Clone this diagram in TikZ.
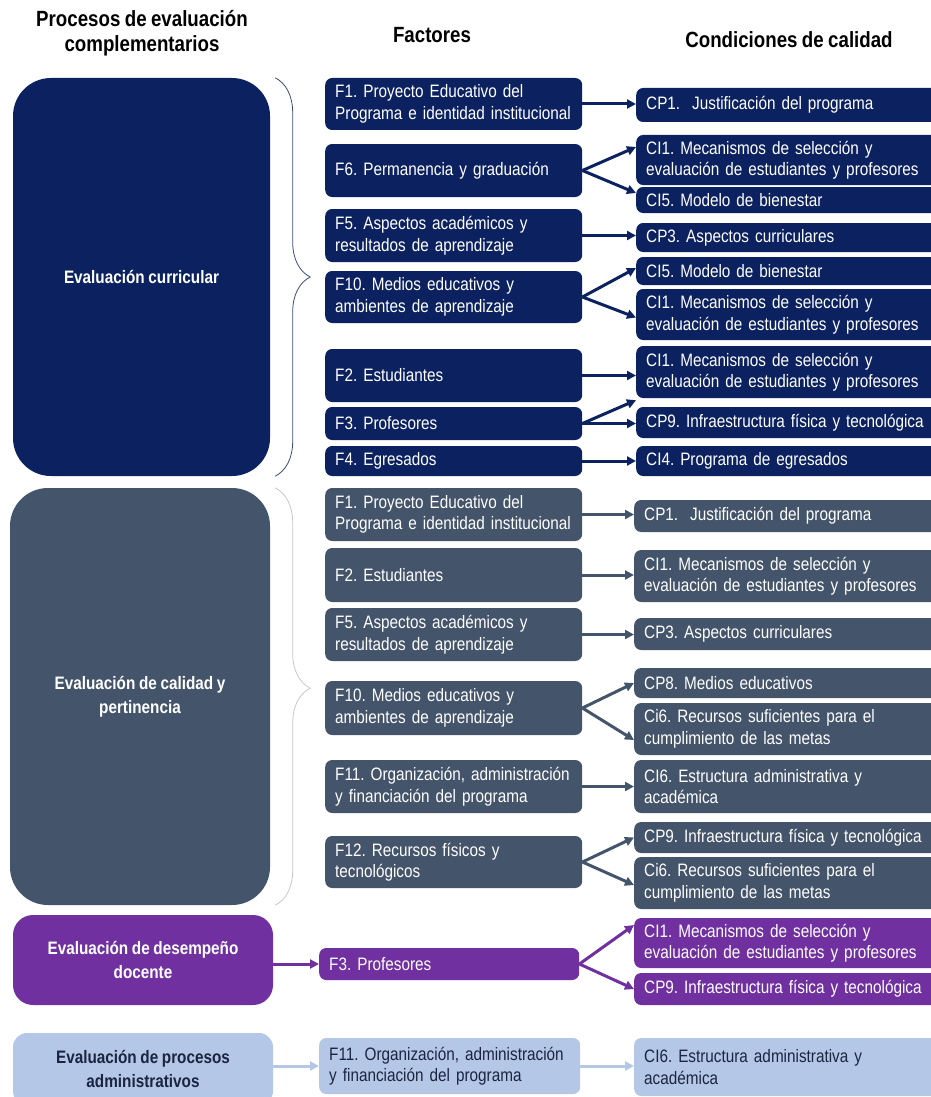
\documentclass[tikz,border=0pt]{standalone}
\usepackage{fontspec}
\setmainfont{Liberation Sans}[FakeStretch=0.85,WordSpace=0.85]
\frenchspacing
\usepackage{tikz}
\usetikzlibrary{positioning,arrows.meta,decorations.pathreplacing}
\definecolor{navy}{HTML}{0C2260}
\definecolor{slate}{HTML}{44546A}
\definecolor{violet2}{HTML}{7030A0}
\definecolor{pale}{HTML}{B4C7E7}
\definecolor{paletext}{HTML}{1B2540}
\definecolor{grey3}{HTML}{C8C8C8}
\definecolor{navy3}{HTML}{3B4B7B}
\tikzset{proc/.style={text=white,font=\fontsize{18}{24}\selectfont\bfseries,align=center,inner sep=0pt},
         fac/.style={anchor=west,rounded corners=7pt,text=white,font=\fontsize{18}{21.5}\selectfont,align=left,text width=237pt,inner xsep=10pt,inner ysep=0pt},
         cond/.style={anchor=west,rounded corners=7pt,text=white,font=\fontsize{18}{21.5}\selectfont,align=left,text width=300pt,inner xsep=10pt,inner ysep=0pt},
         link/.style={-{Triangle[length=9pt,width=9pt]},line width=3pt},
         head/.style={font=\fontsize{22}{25}\selectfont\bfseries,align=center}}

\begin{document}
\begin{tikzpicture}[x=1pt,y=-1pt]
        \clip (0,0) rectangle (931,1097);

        \node[head] (h_proc) at (142,33) {Procesos de evaluación\\complementarios};
        \node[head] (h_fac) at (432,35) {Factores};
        \node[head] (h_cond) at (789,40) {Condiciones de calidad};

        % evaluacion curricular
        \node[proc,fill=navy,rounded corners=38pt,minimum width=257pt,minimum height=398pt] (cur) at (141.5,277) {Evaluación curricular};
        \node[fac,fill=navy,minimum height=52pt] (f1_cur) at (325,104) {F1. Proyecto Educativo del\\Programa e identidad institucional};
        \node[fac,fill=navy,minimum height=53pt] (f6_cur) at (325,170.5) {F6. Permanencia y graduación};
        \node[fac,fill=navy,minimum height=53pt] (f5_cur) at (325,235.5) {F5. Aspectos académicos y\\resultados de aprendizaje};
        \node[fac,fill=navy,minimum height=52pt] (f10_cur) at (325,297) {F10. Medios educativos y\\ambientes de aprendizaje};
        \node[fac,fill=navy,minimum height=53pt] (f2_cur) at (325,375.5) {F2. Estudiantes};
        \node[fac,fill=navy,minimum height=33pt] (f3_cur) at (325,423.5) {F3. Profesores};
        \node[fac,fill=navy,minimum height=30pt] (f4_cur) at (325,461) {F4. Egresados};

        \node[cond,fill=navy,minimum height=34pt] (cp1_cur) at (636,105) {CP1.\ \ Justificación del programa};
        \node[cond,fill=navy,minimum height=50pt] (ci1a_cur) at (636,160) {CI1. Mecanismos de selección y\\evaluación de estudiantes y profesores};
        \node[cond,fill=navy,minimum height=26pt] (ci5a_cur) at (636,200) {CI5. Modelo de bienestar};
        \node[cond,fill=navy,minimum height=29pt] (cp3_cur) at (636,237.5) {CP3. Aspectos curriculares};
        \node[cond,fill=navy,minimum height=28pt] (ci5b_cur) at (636,271) {CI5. Modelo de bienestar};
        \node[cond,fill=navy,minimum height=51pt] (ci1b_cur) at (636,314.5) {CI1. Mecanismos de selección y\\evaluación de estudiantes y profesores};
        \node[cond,fill=navy,minimum height=52pt] (ci1c_cur) at (636,372) {CI1. Mecanismos de selección y\\evaluación de estudiantes y profesores};
        \node[cond,fill=navy,minimum height=31pt] (cp9_cur) at (636,422.5) {CP9. Infraestructura física y tecnológica};
        \node[cond,fill=navy,minimum height=30pt] (ci4_cur) at (636,461) {CI4. Programa de egresados};

        \draw[navy3,line width=0.8pt,decorate,decoration={brace,amplitude=35pt}] ([xshift=5pt]cur.north east) -- ([xshift=5pt]cur.south east);

        \draw[link,navy] (f1_cur.east) -- (f1_cur.east -| cp1_cur.west);
        \draw[link,navy] (f6_cur.east) -- ([yshift=13pt]ci1a_cur.west);
        \draw[link,navy] (f6_cur.east) -- ([yshift=7pt]ci5a_cur.west);
        \draw[link,navy] (f5_cur.east) -- (f5_cur.east -| cp3_cur.west);
        \draw[link,navy] (f10_cur.east) -- ([yshift=3pt]ci5b_cur.west);
        \draw[link,navy] (f10_cur.east) -- ([yshift=-3pt]ci1b_cur.west);
        \draw[link,navy] (f2_cur.east) -- (f2_cur.east -| ci1c_cur.west);
        \draw[link,navy] (f3_cur.east) -- ([yshift=-2pt]ci1c_cur.south west);
        \draw[link,navy] (f3_cur.east) -- (f3_cur.east -| cp9_cur.west);
        \draw[link,navy] (f4_cur.east) -- (f4_cur.east -| ci4_cur.west);

        % evaluacion de calidad y pertinencia
        \node[proc,fill=slate,rounded corners=38pt,minimum width=260pt,minimum height=417pt] (cal) at (140,696.5) {Evaluación de calidad y\\pertinencia};
        \node[fac,fill=slate,minimum height=53pt] (f1_cal) at (325,514.5) {F1. Proyecto Educativo del\\Programa e identidad institucional};
        \node[fac,fill=slate,minimum height=54pt] (f2_cal) at (325,575) {F2. Estudiantes};
        \node[fac,fill=slate,minimum height=53pt] (f5_cal) at (325,634.5) {F5. Aspectos académicos y\\resultados de aprendizaje};
        \node[fac,fill=slate,minimum height=54pt] (f10_cal) at (325,708) {F10. Medios educativos y\\ambientes de aprendizaje};
        \node[fac,fill=slate,minimum height=53pt] (f11_cal) at (325,786.5) {F11. Organización, administración\\y financiación del programa};
        \node[fac,fill=slate,minimum height=52pt] (f12_cal) at (325,862) {F12. Recursos físicos y\\tecnológicos};

        \node[cond,fill=slate,minimum height=32pt] (cp1_cal) at (634,516) {CP1.\ \ Justificación del programa};
        \node[cond,fill=slate,minimum height=52pt] (ci1_cal) at (634,576) {CI1. Mecanismos de selección y\\evaluación de estudiantes y profesores};
        \node[cond,fill=slate,minimum height=32pt] (cp3_cal) at (634,634) {CP3. Aspectos curriculares};
        \node[cond,fill=slate,minimum height=30pt] (cp8_cal) at (634,683) {CP8. Medios educativos};
        \node[cond,fill=slate,minimum height=52pt] (ci6a_cal) at (634,729) {Ci6. Recursos suficientes para el\\cumplimiento de las metas};
        \node[cond,fill=slate,minimum height=53pt] (ci6b_cal) at (634,786.5) {CI6. Estructura administrativa y\\académica};
        \node[cond,fill=slate,minimum height=31pt] (cp9_cal) at (634,837.5) {CP9. Infraestructura física y tecnológica};
        \node[cond,fill=slate,minimum height=52pt] (ci6c_cal) at (634,883) {Ci6. Recursos suficientes para el\\cumplimiento de las metas};

        \draw[grey3,line width=0.8pt,decorate,decoration={brace,amplitude=35pt,aspect=0.48}] ([xshift=5pt]cal.north east) -- ([xshift=5pt]cal.south east);

        \draw[link,slate] (f1_cal.east) -- (f1_cal.east -| cp1_cal.west);
        \draw[link,slate] (f2_cal.east) -- (f2_cal.east -| ci1_cal.west);
        \draw[link,slate] (f5_cal.east) -- (f5_cal.east -| cp3_cal.west);
        \draw[link,slate] (f10_cal.east) -- (cp8_cal.west);
        \draw[link,slate] (f10_cal.east) -- ([yshift=-11pt]ci6a_cal.west);
        \draw[link,slate] (f11_cal.east) -- (f11_cal.east -| ci6b_cal.west);
        \draw[link,slate] (f12_cal.east) -- (cp9_cal.west);
        \draw[link,slate] (f12_cal.east) -- ([yshift=-2pt]ci6c_cal.west);

        % evaluacion de desempeno docente
        \node[proc,fill=violet2,rounded corners=20pt,minimum width=260pt,minimum height=90pt] (doc) at (143,960) {Evaluación de desempeño\\docente};
        \node[fac,fill=violet2,text width=240pt,minimum height=32pt] (f3_doc) at (319,964) {F3. Profesores};
        \node[cond,fill=violet2,minimum height=50pt] (ci1_doc) at (634,943) {CI1. Mecanismos de selección y\\evaluación de estudiantes y profesores};
        \node[cond,fill=violet2,minimum height=32pt] (cp9_doc) at (634,989) {CP9. Infraestructura física y tecnológica};

        \draw[link,violet2] (doc.east |- f3_doc.west) -- (f3_doc.west);
        \draw[link,violet2] (f3_doc.east) -- ([yshift=18pt]ci1_doc.west);
        \draw[link,violet2] (f3_doc.east) -- (cp9_doc.west);

        % evaluacion de procesos administrativos
        \node[proc,fill=pale,text=paletext,rounded corners=14pt,minimum width=260pt,minimum height=72pt] (adm) at (143,1069) {Evaluación de procesos\\administrativos};
        \node[fac,fill=pale,text=paletext,text width=241pt,minimum height=56pt] (f11_adm) at (319,1066) {F11. Organización, administración\\y financiación del programa};
        \node[cond,fill=pale,text=paletext,minimum height=58pt] (ci6_adm) at (634,1067) {CI6. Estructura administrativa y\\académica};

        \draw[link,pale] (adm.east |- f11_adm.west) -- (f11_adm.west);
        \draw[link,pale] (f11_adm.east) -- (f11_adm.east -| ci6_adm.west);
    \end{tikzpicture}
\end{document}
